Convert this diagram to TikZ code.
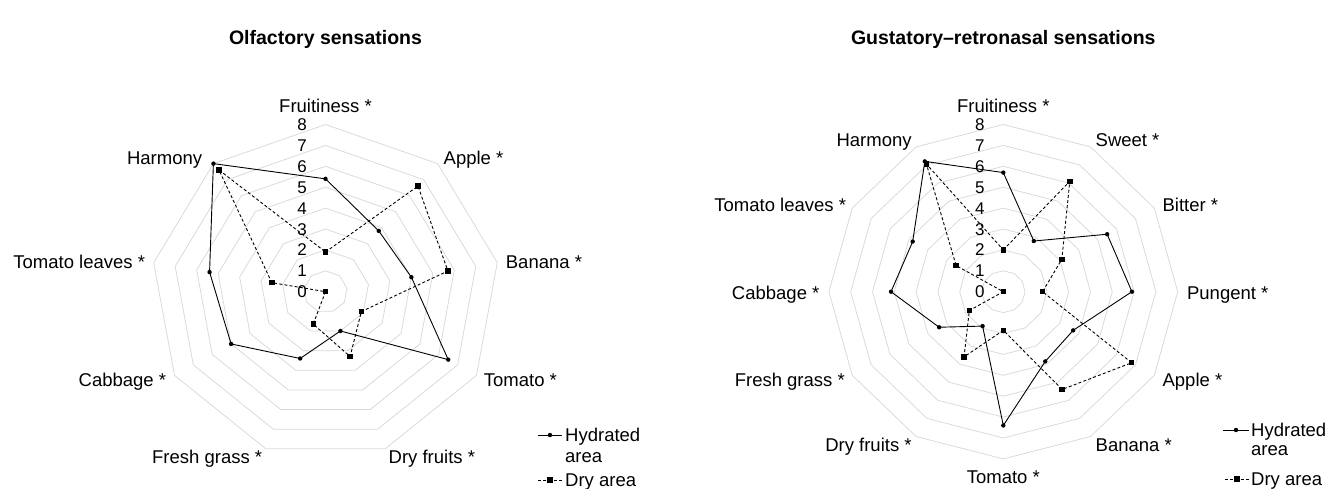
\documentclass[tikz,border=0pt]{standalone}
\usepackage{fontspec}
\setmainfont{Liberation Sans}
\definecolor{gridgray}{HTML}{D9D9D9}
\begin{document}
\begin{tikzpicture}[x=1pt,y=-1pt,
  grid/.style={draw=gridgray, line width=0.75pt},
  hyd/.style={draw=black, line width=0.9pt, line join=round},
  dry/.style={draw=black, line width=0.9pt, line join=round, dash pattern=on 3pt off 2.2pt},
  hmark/.style={circle, fill=black, inner sep=0pt, minimum size=4.4pt},
  dmark/.style={rectangle, fill=black, inner sep=0pt, minimum size=5.4pt},
  lab/.style={font=\fontsize{18.5}{21}\selectfont, inner sep=0pt},
  tick/.style={font=\fontsize{17}{19}\selectfont, inner sep=0pt, anchor=base},
  ttl/.style={font=\fontsize{19.5}{23}\selectfont\bfseries, inner sep=0pt, anchor=base}]
\useasboundingbox (0,0) rectangle (1326,488);
\fill[white] (0,0) rectangle (1326,488);

% ---------------- Left chart: Olfactory sensations ----------------
\node[ttl] (t1) at (325.5,44.0) {Olfactory sensations};
\begin{scope}[xshift=325.5pt, yshift=-291.7pt, x=21.8pt, y=-20.9pt]
  \foreach \r in {1,...,8}
    \draw[grid] (-90:\r) \foreach \k in {1,...,8} { -- ({-90+40*\k}:\r) } -- cycle;
  \foreach \v [count=\k from 0] in {5.4,3.8,4.0,6.5,2.0,3.4,5.0,5.4,8.0}
    \coordinate (LH\k) at ({-90+40*\k}:\v);
  \foreach \v [count=\k from 0] in {1.9,6.6,5.7,1.9,3.3,1.65,0,2.5,7.6}
    \coordinate (LD\k) at ({-90+40*\k}:\v);
\end{scope}
\draw[dry] (LD0) -- (LD1) -- (LD2) -- (LD3) -- (LD4) -- (LD5) -- (LD6) -- (LD7) -- (LD8) -- cycle;
\draw[hyd] (LH0) -- (LH1) -- (LH2) -- (LH3) -- (LH4) -- (LH5) -- (LH6) -- (LH7) -- (LH8) -- cycle;
\foreach \k in {0,...,8} {
  \node[dmark] (LDm\k) at (LD\k) {};
  \node[hmark] (LHm\k) at (LH\k) {};
}
\foreach \t in {0,...,8}
  \node[tick] (LT\t) at ({302}, {297.7-20.9*\t}) {\t};

\node[lab, anchor=base] (l0) at (325.5,112.4) {Fruitiness *};
\node[lab, anchor=base west] (l1) at (443.5,164.4) {Apple *};
\node[lab, anchor=base west] (l2) at (505.7,268.4) {Banana *};
\node[lab, anchor=base west] (l3) at (483.7,386.0) {Tomato *};
\node[lab, anchor=base west] (l4) at (388.5,463.4) {Dry fruits *};
\node[lab, anchor=base east] (l5) at (262.4,463.4) {Fresh grass *};
\node[lab, anchor=base east] (l6) at (166.3,386.0) {Cabbage *};
\node[lab, anchor=base east] (l7) at (145.2,268.4) {Tomato leaves *};
\node[lab, anchor=base east] (l8) at (202.3,164.7) {Harmony};

% legend left
\coordinate (LLa) at (538,435);
\coordinate (LLb) at (562,435);
\draw[hyd] (LLa) -- (LLb);
\node[hmark] (LLm) at (550,435) {};
\node[lab, anchor=base west] (LLt1) at (565,441.7) {Hydrated};
\node[lab, anchor=base west] (LLt2) at (565,462.2) {area};
\coordinate (LLc) at (538,480);
\coordinate (LLd) at (562,480);
\draw[dry] (LLc) -- (LLd);
\node[dmark] (LLn) at (550,480) {};
\node[lab, anchor=base west] (LLt3) at (565,486.7) {Dry area};

% ---------------- Right chart: Gustatory-retronasal ----------------
\node[ttl] (t2) at (1003.3,44.0) {Gustatory–retronasal sensations};
\begin{scope}[xshift=1003.3pt, yshift=-291.7pt, x=21.8pt, y=-20.9pt]
  \foreach \r in {1,...,8}
    \draw[grid] (-90:\r) \foreach \k in {1,...,11} { -- ({-90+30*\k}:\r) } -- cycle;
  \foreach \v [count=\k from 0] in {5.7,2.8,5.5,5.9,3.7,3.85,6.4,1.9,3.4,5.15,4.8,7.2}
    \coordinate (RH\k) at ({-90+30*\k}:\v);
  \foreach \v [count=\k from 0] in {2.0,6.1,3.1,1.8,6.8,5.4,1.85,3.6,1.8,0,2.5,7.05}
    \coordinate (RD\k) at ({-90+30*\k}:\v);
\end{scope}
\draw[dry] (RD0) -- (RD1) -- (RD2) -- (RD3) -- (RD4) -- (RD5) -- (RD6) -- (RD7) -- (RD8) -- (RD9) -- (RD10) -- (RD11) -- cycle;
\draw[hyd] (RH0) -- (RH1) -- (RH2) -- (RH3) -- (RH4) -- (RH5) -- (RH6) -- (RH7) -- (RH8) -- (RH9) -- (RH10) -- (RH11) -- cycle;
\foreach \k in {0,...,11} {
  \node[dmark] (RDm\k) at (RD\k) {};
  \node[hmark] (RHm\k) at (RH\k) {};
}
\foreach \t in {0,...,8}
  \node[tick] (RT\t) at ({979.8}, {297.7-20.9*\t}) {\t};

\node[lab, anchor=base] (r0) at (1003.3,112.4) {Fruitiness *};
\node[lab, anchor=base west] (r1) at (1095.5,146.0) {Sweet *};
\node[lab, anchor=base west] (r2) at (1162.4,211.0) {Bitter *};
\node[lab, anchor=base west] (r3) at (1186.9,299.0) {Pungent *};
\node[lab, anchor=base west] (r4) at (1162.4,386.7) {Apple *};
\node[lab, anchor=base west] (r5) at (1095.5,451.7) {Banana *};
\node[lab, anchor=base] (r6) at (1003.3,483.4) {Tomato *};
\node[lab, anchor=base east] (r7) at (911.8,451.7) {Dry fruits *};
\node[lab, anchor=base east] (r8) at (845.0,386.7) {Fresh grass *};
\node[lab, anchor=base east] (r9) at (819.6,299.0) {Cabbage *};
\node[lab, anchor=base east] (r10) at (846.2,211.0) {Tomato leaves *};
\node[lab, anchor=base east] (r11) at (911.8,146.7) {Harmony};

% legend right
\coordinate (RLa) at (1223,430);
\coordinate (RLb) at (1249,430);
\draw[hyd] (RLa) -- (RLb);
\node[hmark] (RLm) at (1236,430) {};
\node[lab, anchor=base west] (RLt1) at (1251,436.7) {Hydrated};
\node[lab, anchor=base west] (RLt2) at (1251,455.7) {area};
\coordinate (RLc) at (1225,479);
\coordinate (RLd) at (1249,479);
\draw[dry] (RLc) -- (RLd);
\node[dmark] (RLn) at (1237,479) {};
\node[lab, anchor=base west] (RLt3) at (1251,485.7) {Dry area};
\end{tikzpicture}
\end{document}
